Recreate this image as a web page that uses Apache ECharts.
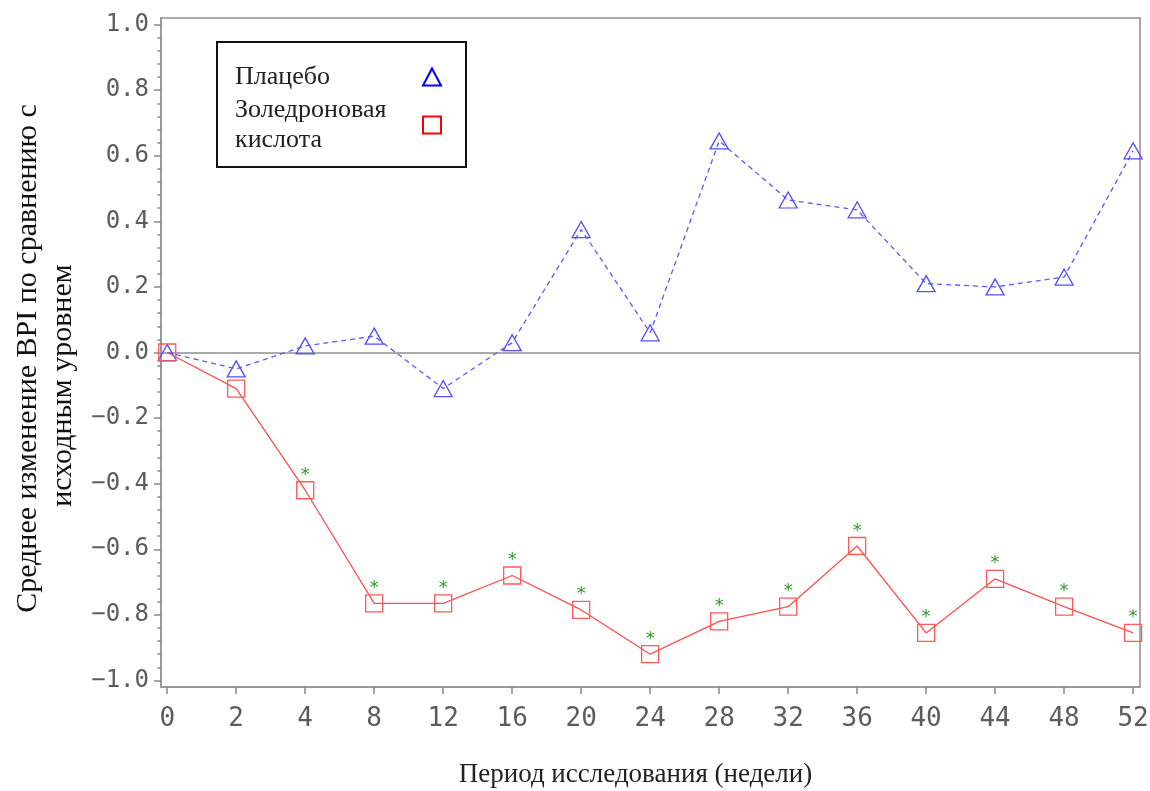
<!DOCTYPE html>
<html>
<head>
<meta charset="utf-8">
<script src="https://cdn.jsdelivr.net/npm/echarts@6/dist/echarts.min.js"></script>
<style>html,body{margin:0;padding:0;background:#fff;}#c{width:1150px;height:791px;}</style>
</head>
<body>
<div id="c"></div>
<script>
var weeks = ['0','2','4','8','12','16','20','24','28','32','36','40','44','48','52'];
var placebo = [0, -0.05, 0.02, 0.05, -0.11, 0.03, 0.375, 0.06, 0.645, 0.465, 0.435, 0.21, 0.20, 0.23, 0.615];
var zoledronic = [0, -0.11, -0.42, -0.765, -0.765, -0.68, -0.785, -0.92, -0.82, -0.775, -0.59, -0.855, -0.69, -0.775, -0.855];
var significant = [0, 0, 1, 1, 1, 1, 1, 1, 1, 1, 1, 1, 1, 1, 1];
var yTicks = [-1.0, -0.8, -0.6, -0.4, -0.2, 0.0, 0.2, 0.4, 0.6, 0.8, 1.0];
var seriesNames = ['Плацебо', 'Золедроновая\nкислота'];
var xTitle = 'Период исследования (недели)';
var yTitleLines = ['Среднее изменение BPI по сравнению с', 'исходным уровнем'];

var xIdx = weeks.map(function (w, i) { return i; });
var yMinor = [];
for (var k = 0; k < yTicks.length - 1; k++) {
  for (var m = 1; m < 5; m++) {
    yMinor.push(+(yTicks[k] + (yTicks[k + 1] - yTicks[k]) * m / 5).toFixed(3));
  }
}
function pairs(arr) { return arr.map(function (v, i) { return [i, v]; }); }

var monoFont = 'DejaVu Sans Mono';
var titleFont = { fontFamily: 'Liberation Serif', fontSize: 30, color: '#111', lineHeight: 35 };
var chart = echarts.init(document.getElementById('c'), null, { renderer: 'canvas' });
chart.setOption({
  animation: false,
  backgroundColor: '#fff',
  grid: { left: 161, right: 10, top: 18, bottom: 104, show: true, borderColor: '#aaa', borderWidth: 2, backgroundColor: 'transparent', containLabel: false, outerBoundsMode: 'none' },
  legend: {
    left: 217, top: 42, orient: 'vertical', align: 'right',
    backgroundColor: '#fff', borderColor: '#111', borderWidth: 2, borderRadius: 0,
    padding: [20, 24, 12, 18], itemGap: 3, itemWidth: 18, itemHeight: 17,
    formatter: function (name) {
      return name.split('\n').map(function (s) { return '{t|' + s + '}'; }).join('\n');
    },
    textStyle: {
      fontFamily: 'Liberation Serif', fontSize: 26, color: '#222', lineHeight: 30,
      rich: { t: { fontFamily: 'Liberation Serif', fontSize: 26, color: '#222', lineHeight: 30, width: 183, align: 'left' } }
    },
    data: [
      { name: seriesNames[0], icon: 'triangle', itemStyle: { color: 'transparent', borderColor: '#0000ff', borderWidth: 2 } },
      { name: seriesNames[1], icon: 'rect', itemStyle: { color: 'transparent', borderColor: '#ff0000', borderWidth: 2 } }
    ]
  },
  xAxis: {
    type: 'value', min: -0.09, max: 14.1,
    name: xTitle, nameLocation: 'middle', nameGap: 74,
    nameTextStyle: { fontFamily: 'Liberation Serif', fontSize: 27, color: '#222', padding: [0, 30, 0, 0] },
    axisLine: { show: true, onZero: false, lineStyle: { color: '#999', width: 2 } },
    axisTick: { show: true, customValues: xIdx, length: 7, lineStyle: { color: '#888', width: 1.5 } },
    axisLabel: { customValues: xIdx, margin: 19, formatter: function (v) { return weeks[Math.round(v)]; }, fontFamily: monoFont, fontSize: 26, color: '#5c5c5c' },
    splitLine: { show: false }
  },
  yAxis: [{
    type: 'value', min: -1.02, max: 1.02,
    name: '{a|' + yTitleLines[0] + '}\n{b|' + yTitleLines[1] + '}', nameLocation: 'middle', nameGap: 78,
    nameTextStyle: {
      fontFamily: titleFont.fontFamily, fontSize: titleFont.fontSize, color: titleFont.color, lineHeight: titleFont.lineHeight,
      rich: {
        a: { fontFamily: titleFont.fontFamily, fontSize: titleFont.fontSize, color: titleFont.color, lineHeight: titleFont.lineHeight, padding: [0, 12, 0, 0] },
        b: { fontFamily: titleFont.fontFamily, fontSize: titleFont.fontSize, color: titleFont.color, lineHeight: titleFont.lineHeight, padding: [0, 66, 0, 0] }
      }
    },
    axisLine: { show: true, onZero: false, lineStyle: { color: '#999', width: 2 } },
    axisTick: { show: true, customValues: yTicks, length: 7, lineStyle: { color: '#888', width: 1.5 } },
    axisLabel: { customValues: yTicks, margin: 12, formatter: function (v) { return (v < -1e-9 ? '\u2212' : '') + Math.abs(v).toFixed(1); }, fontFamily: monoFont, fontSize: 24, color: '#5c5c5c' },
    splitLine: { show: false }
  }, {
    type: 'value', min: -1.02, max: 1.02, position: 'left',
    axisLine: { show: false, onZero: false },
    axisTick: { show: true, customValues: yMinor, length: 3.5, lineStyle: { color: '#888', width: 1.5 } },
    axisLabel: { show: false },
    splitLine: { show: false }
  }],
  series: [{
    name: seriesNames[0], type: 'line', data: pairs(placebo),
    symbol: 'triangle', symbolSize: [18, 16],
    itemStyle: { color: 'transparent', borderColor: '#5050ff', borderWidth: 1.3 },
    lineStyle: { color: '#5a5aff', width: 1.3, type: [5, 4] },
    z: 3,
    markLine: {
      silent: true, symbol: ['none', 'none'], label: { show: false },
      lineStyle: { color: '#aaa', width: 2, type: 'solid' },
      data: [{ yAxis: 0 }], z: 1
    }
  }, {
    name: seriesNames[1], type: 'line', data: pairs(zoledronic),
    symbol: 'rect', symbolSize: 17,
    itemStyle: { color: 'transparent', borderColor: '#ff5a5a', borderWidth: 1.3 },
    lineStyle: { color: '#ff5050', width: 1.3 },
    z: 4,
    label: {
      show: true, position: 'top', distance: -3,
      formatter: function (p) { return significant[p.dataIndex] ? '*' : ''; },
      color: '#2e9a2e', fontSize: 18, fontFamily: 'DejaVu Sans'
    }
  }]
});
</script>
</body>
</html>
